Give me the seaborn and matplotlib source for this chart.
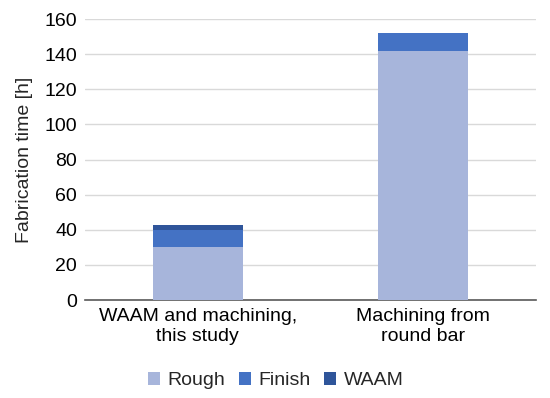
import matplotlib
matplotlib.use("Agg")
import matplotlib.pyplot as plt
import seaborn as sns
import pandas as pd
import numpy as np
from matplotlib.patches import Patch

categories = ["WAAM and machining,\nthis study", "Machining from\nround bar"]
rough = [30, 142]
finish = [10, 10]
waam = [2.5, 0]
series_names = ["Rough", "Finish", "WAAM"]
colors = ["#A7B5DB", "#4472C4", "#2F559A"]
yticks = [0, 20, 40, 60, 80, 100, 120, 140, 160]

sns.set_theme(style="white")
plt.rcParams['font.family'] = ['Liberation Sans', 'DejaVu Sans']

fs = 14
fig = plt.figure(figsize=(5.5, 3.98), dpi=100)
ax = fig.add_axes([0.155, 0.246, 0.819, 0.706])

c1 = np.array(rough, dtype=float)
c2 = c1 + np.array(finish)
c3 = c2 + np.array(waam)
for vals, col in [(c3, colors[2]), (c2, colors[1]), (c1, colors[0])]:
    df = pd.DataFrame({"cat": categories, "val": vals})
    sns.barplot(data=df, x="cat", y="val", color=col, width=0.4, ax=ax,
                saturation=1, zorder=3, linewidth=0, edgecolor="none")

ax.set_ylim(0, 160)
ax.set_yticks(yticks)
ax.set_xlim(-0.5, 1.5)
ax.grid(axis="y", color="#D9D9D9", linewidth=1, zorder=0)
ax.set_axisbelow(True)
for s in ["left", "right", "top"]:
    ax.spines[s].set_visible(False)
ax.spines["bottom"].set_color("#595959")
ax.spines["bottom"].set_linewidth(1.2)
ax.tick_params(axis="both", length=0, labelsize=fs, colors="#000000", pad=6)
ax.set_xlabel("")
ax.set_ylabel("Fabrication time [h]", fontsize=fs, labelpad=8)

handles = [Patch(facecolor=c, edgecolor="none") for c in colors]
fig.legend(handles, series_names, loc="center", bbox_to_anchor=(0.502, 0.043),
           ncol=3, frameon=False, fontsize=fs, handlelength=0.6, handleheight=0.6,
           handletextpad=0.4, columnspacing=0.7)

fig.savefig("out.png", dpi=100)
